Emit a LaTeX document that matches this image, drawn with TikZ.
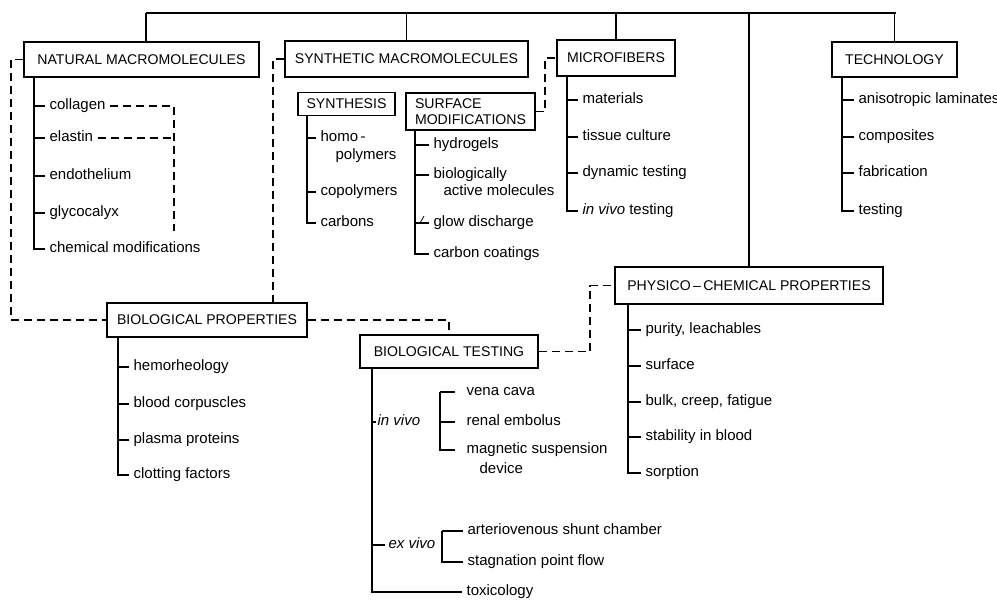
\documentclass[tikz,border=0pt]{standalone}
\usepackage{fontspec}
\setmainfont{Liberation Sans}
\usepackage{tikz}
\usetikzlibrary{calc}
\tikzstyle{hbox}=[rectangle,draw=black,line width=1.8pt,inner sep=0pt,font=\fontsize{14.1}{16}\selectfont]
\tikzstyle{lbl}=[anchor=west,inner xsep=4pt,inner ysep=0pt,text height=10.5pt,text depth=3pt]
\tikzstyle{dashline}=[dash pattern=on 8pt off 5pt]
\tikzstyle{none}=[inner sep=0pt,minimum size=0pt]

\begin{document}
\begin{tikzpicture}[x=1pt,y=-1pt,line width=1.2pt,font=\fontsize{15}{16.5}\selectfont]
            \useasboundingbox (0,0) rectangle (997,602);
            \node [style=hbox, minimum width=235pt, minimum height=35pt] (0) at (141.5, 59.5) {NATURAL MACROMOLECULES};
            \node [style=hbox, minimum width=243pt, minimum height=36pt] (1) at (406.5, 59) {SYNTHETIC MACROMOLECULES};
            \node [style=hbox, minimum width=118pt, minimum height=36pt] (2) at (616, 58) {MICROFIBERS};
            \node [style=hbox, minimum width=125pt, minimum height=35pt] (3) at (894.5, 59.5) {TECHNOLOGY};
            \node [style=hbox, minimum width=97pt, minimum height=23pt] (4) at (346.5, 104) {SYNTHESIS};
            \node [style=hbox, minimum width=129pt, minimum height=37pt, align=left] (5) at (470.5, 111.5) {SURFACE\\MODIFICATIONS};
            \node [style=hbox, minimum width=200pt, minimum height=34pt] (6) at (207, 320) {BIOLOGICAL PROPERTIES};
            \node [style=hbox, minimum width=178pt, minimum height=33pt] (7) at (449, 351.5) {BIOLOGICAL TESTING};
            \node [style=hbox, minimum width=268pt, minimum height=37pt] (8) at (749, 285.5) {PHYSICO\,--\,CHEMICAL PROPERTIES};
            \node [style=lbl] (10) at (45, 106) {collagen};
            \node [style=lbl] (11) at (45, 138) {elastin};
            \node [style=lbl] (12) at (45, 176) {endothelium};
            \node [style=lbl] (13) at (45, 213) {glycocalyx};
            \node [style=lbl] (14) at (45, 249) {chemical modifications};
            \node [style=lbl] (15) at (316, 138) {homo\,-};
            \node [style=lbl] (16) at (331, 156) {polymers};
            \node [style=lbl] (17) at (316, 192) {copolymers};
            \node [style=lbl] (18) at (316, 223) {carbons};
            \node [style=lbl] (19) at (429, 145) {hydrogels};
            \node [style=lbl] (20) at (429, 175) {biologically};
            \node [style=lbl] (21) at (439, 192) {active molecules};
            \node [style=lbl] (22) at (429, 223) {glow discharge};
            \node [style=lbl] (23) at (429, 254) {carbon coatings};
            \node [style=lbl] (24) at (578, 100) {materials};
            \node [style=lbl] (25) at (578, 137) {tissue culture};
            \node [style=lbl] (26) at (578, 173) {dynamic testing};
            \node [style=lbl] (27) at (578, 211) {\textit{in vivo} testing};
            \node [style=lbl] (28) at (854, 100) {anisotropic laminates};
            \node [style=lbl] (29) at (854, 137) {composites};
            \node [style=lbl] (30) at (854, 173) {fabrication};
            \node [style=lbl] (31) at (854, 211) {testing};
            \node [style=lbl] (32) at (129, 367) {hemorheology};
            \node [style=lbl] (33) at (129, 404) {blood corpuscles};
            \node [style=lbl] (34) at (129, 440) {plasma proteins};
            \node [style=lbl] (35) at (129, 475) {clotting factors};
            \node [style=lbl] (36) at (641, 330) {purity, leachables};
            \node [style=lbl] (37) at (641, 366) {surface};
            \node [style=lbl] (38) at (641, 402) {bulk, creep, fatigue};
            \node [style=lbl] (39) at (641, 437) {stability in blood};
            \node [style=lbl] (40) at (641, 473) {sorption};
            \node [style=lbl, inner xsep=1pt] (41) at (376, 422) {\textit{in vivo}};
            \node [style=lbl, inner xsep=3pt] (42) at (385, 545) {\textit{ex vivo}};
            \node [style=lbl] (43) at (462, 592) {toxicology};
            \node [style=lbl, inner xsep=11pt] (44) at (455, 392) {vena cava};
            \node [style=lbl, inner xsep=11pt] (45) at (455, 422) {renal embolus};
            \node [style=lbl, inner xsep=11pt] (46) at (455, 450) {magnetic suspension};
            \node [style=lbl] (47) at (475, 470) {device};
            \node [style=lbl] (48) at (463, 531) {arteriovenous shunt chamber};
            \node [style=lbl] (49) at (463, 562) {stagnation point flow};
            \node [style=none] (50) at (146, 13) {};
            \node [style=none] (51) at (896, 13) {};
            \node [style=none] (53) at (34, 77) {};
            \node [style=none] (54) at (307, 115) {};
            \node [style=none] (55) at (415, 130) {};
            \node [style=none] (56) at (567, 76) {};
            \node [style=none] (57) at (842, 77) {};
            \node [style=none] (58) at (118, 337) {};
            \node [style=none] (59) at (628, 304) {};
            \node [style=none] (60) at (372, 368) {};
            \node [style=none] (61) at (440, 392) {};
            \node [style=none] (62) at (442, 531) {};
            \node [style=none] (63) at (420, 223) {};
            \node [style=none] (64) at (424, 216) {};
            \node [style=none] (65) at (11, 320) {};
            \node [style=none] (66) at (273, 303) {};
            \node [style=none] (67) at (590, 285.5) {};
            \node [style=none] (68) at (545, 58) {};
            \node [style=none] (69) at (174, 231) {};
            \draw (50.center) to (51.center);
            \draw (50.center) to (50.center |- 0.north);
            \draw (1.north) to (1.north |- 50.center);
            \draw (2.north) to (2.north |- 50.center);
            \draw (8.north) to (8.north |- 50.center);
            \draw (3.north) to (3.north |- 50.center);
            \draw (53.center) |- (10.west) (53.center) |- (11.west) (53.center) |- (12.west) (53.center) |- (13.west) (53.center) |- (14.west);
            \draw (54.center) |- (15.west) (54.center) |- (17.west) (54.center) |- (18.west);
            \draw (55.center) |- (19.west) (55.center) |- (20.west) (55.center) |- (22.west) (55.center) |- (23.west);
            \draw [line width=0.8pt] (63.center) to (64.center);
            \draw (56.center) |- (24.west) (56.center) |- (25.west) (56.center) |- (26.west) (56.center) |- (27.west);
            \draw (57.center) |- (28.west) (57.center) |- (29.west) (57.center) |- (30.west) (57.center) |- (31.west);
            \draw (58.center) |- (32.west) (58.center) |- (33.west) (58.center) |- (34.west) (58.center) |- (35.west);
            \draw (59.center) |- (36.west) (59.center) |- (37.west) (59.center) |- (38.west) (59.center) |- (39.west) (59.center) |- (40.west);
            \draw (60.center) |- (41.west) (60.center) |- (42.west) (60.center) |- (43.west);
            \draw (61.center) |- (44.west) (61.center) |- (45.west) (61.center) |- (46.west);
            \draw (62.center) |- (48.west) (62.center) |- (49.west);
            \draw [style=dashline] (10.east) -| (69.center);
            \draw [style=dashline] (11.east) to (11.east -| 69.center);
            \draw [style=dashline] (0.west) -| (65.center) to (6.west);
            \draw [style=dashline] (1.west) -| (66.center);
            \draw [style=dashline] (6.east) -| (7.north);
            \draw [style=dashline] (7.east) -| (67.center) to (8.west);
            \draw [style=dashline] (5.east) -| (68.center) to (2.west);
    \end{tikzpicture}
\end{document}
